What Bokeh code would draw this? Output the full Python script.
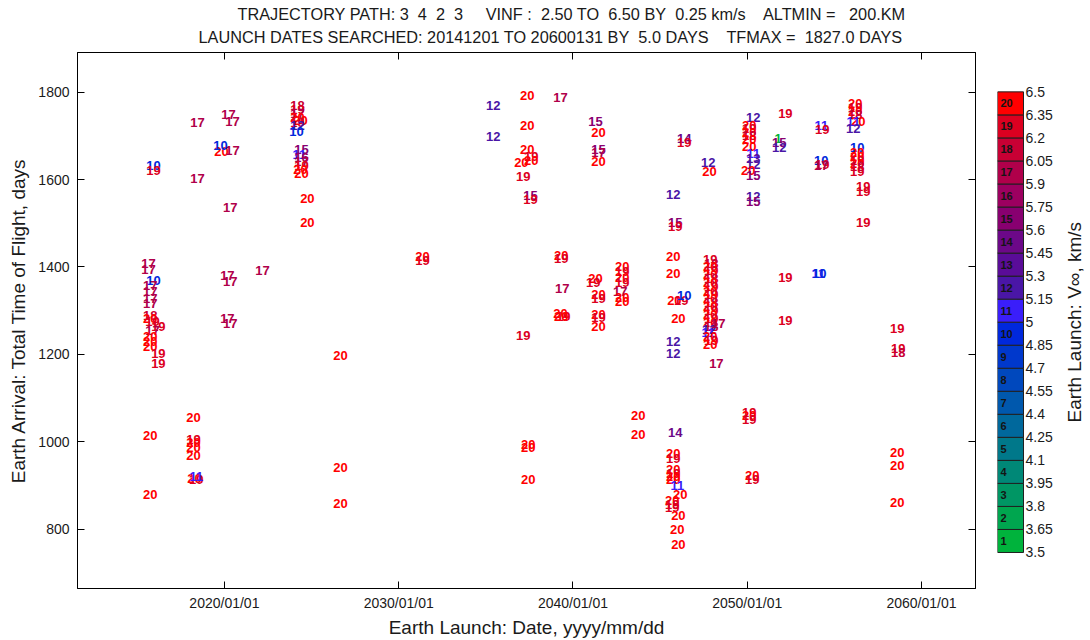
import numpy as np
from bokeh.plotting import figure
from bokeh.models import Range1d, FixedTicker, LinearAxis, Title, ColumnDataSource
from bokeh.layouts import row
from bokeh.embed import file_html
from bokeh.resources import INLINE
from bokeh.core.properties import value

# ---------------- data ----------------
launch_year = [
    # 2015-2016
    2015.93, 2015.93, 2015.64, 2015.64, 2015.93, 2015.75, 2015.75, 2015.75, 2015.75, 2015.75, 2015.75,
    2015.87, 2016.21, 2015.87, 2015.75, 2015.75, 2015.75, 2016.21, 2016.21, 2015.75, 2015.75,
    # 2018
    2018.45, 2018.45, 2018.22, 2018.22, 2018.22, 2018.22, 2018.22, 2018.28, 2018.39, 2018.39,
    # 2020-2022
    2020.23, 2020.46, 2019.83, 2020.46, 2019.77, 2020.34, 2020.17, 2020.34, 2020.17, 2020.34, 2022.18,
    # 2024
    2024.19, 2024.19, 2024.19, 2024.19, 2024.36, 2024.19, 2024.19, 2024.13, 2024.42, 2024.30, 2024.42,
    2024.42, 2024.42, 2024.36, 2024.42, 2024.76, 2024.76,
    # 2026-2031
    2026.66, 2026.66, 2026.66, 2031.36, 2031.36,
    # 2035-2039
    2035.43, 2035.43, 2037.38, 2039.28, 2037.38, 2037.38, 2037.61, 2037.61, 2037.04, 2037.15, 2037.56,
    2037.56, 2037.15, 2037.44, 2037.44, 2037.44, 2039.33, 2039.33, 2039.39, 2039.28, 2039.45, 2039.33,
    # 2041-2043
    2041.29, 2041.46, 2041.46, 2041.46, 2041.46, 2041.29, 2041.17, 2041.46, 2041.46, 2041.46, 2041.46,
    2041.46, 2042.83, 2042.83, 2042.83, 2042.83, 2042.72, 2042.83, 2042.83, 2043.75, 2043.75,
    # 2045-2046
    2046.39, 2046.39, 2045.76, 2045.87, 2045.87, 2045.76, 2045.76, 2045.82, 2046.22, 2046.39, 2046.05,
    2045.76, 2045.76, 2045.87, 2045.76, 2045.76, 2045.76, 2045.76, 2045.76, 2045.76, 2045.99, 2046.16,
    2045.70, 2045.70, 2045.70, 2046.05, 2045.99, 2046.05,
    # 2047-2048
    2047.77, 2047.83, 2047.88, 2047.94, 2047.88, 2047.94, 2047.88, 2047.94, 2047.88, 2047.94, 2047.88,
    2047.94, 2047.88, 2047.94, 2047.88, 2047.94, 2047.88, 2047.94, 2047.88, 2047.94, 2047.82, 2047.77,
    2047.88, 2047.94, 2047.88, 2048.34, 2048.23,
    # 2050
    2050.35, 2050.12, 2050.12, 2050.12, 2050.12, 2050.12, 2050.12, 2050.35, 2050.35, 2050.35, 2050.06,
    2050.35, 2050.35, 2050.35, 2050.12, 2050.12, 2050.12, 2050.29, 2050.29,
    # 2052-2054
    2052.19, 2051.78, 2051.84, 2051.84, 2052.19, 2052.19, 2054.25, 2054.31, 2054.25, 2054.31, 2054.25,
    2054.08, 2054.14,
    # 2056-2059
    2056.20, 2056.20, 2056.20, 2056.20, 2056.37, 2056.09, 2056.09, 2056.32, 2056.32, 2056.32, 2056.32,
    2056.32, 2056.32, 2056.32, 2056.66, 2056.66, 2056.66, 2058.61, 2058.67, 2058.67, 2058.61, 2058.61,
    2058.61,
]

tof_days = [
    1632, 1620, 1407, 1395, 1368, 1357, 1345, 1327, 1316, 1289, 1282,
    1275, 1264, 1255, 1241, 1230, 1218, 1202, 1180, 1014, 880,
    1730, 1602, 1055, 1005, 998, 986, 968, 916, 914, 920,
    1748, 1732, 1664, 1666, 1677, 1536, 1380, 1366, 1282, 1270, 1391,
    1770, 1761, 1752, 1743, 1736, 1730, 1723, 1711, 1668, 1657, 1650,
    1641, 1632, 1623, 1614, 1557, 1502,
    1198, 941, 859, 1423, 1414,
    1770, 1698, 1793, 1789, 1725, 1668, 1652, 1643, 1639, 1607, 1564,
    1555, 1243, 993, 986, 914, 1427, 1420, 1350, 1293, 1286, 1286,
    1732, 1707, 1668, 1661, 1641, 1373, 1364, 1336, 1327, 1291, 1284,
    1264, 1400, 1389, 1375, 1364, 1345, 1330, 1320, 1061, 1016,
    1693, 1684, 1566, 1502, 1493, 1425, 1384, 1323, 1323, 1334, 1282,
    1230, 1202, 1020, 973, 961, 936, 927, 920, 914, 900, 880,
    866, 857, 850, 832, 800, 764,
    1639, 1618, 1418, 1409, 1400, 1391, 1382, 1373, 1364, 1355, 1345,
    1336, 1327, 1318, 1309, 1300, 1291, 1282, 1273, 1264, 1257, 1250,
    1241, 1232, 1223, 1270, 1180,
    1743, 1725, 1716, 1709, 1700, 1691, 1675, 1659, 1648, 1634, 1620,
    1609, 1561, 1550, 1068, 1059, 1052, 923, 914,
    1752, 1695, 1684, 1673, 1377, 1277, 1723, 1714, 1643, 1634, 1632,
    1386, 1384,
    1775, 1766, 1757, 1748, 1734, 1732, 1716, 1673, 1661, 1652, 1643,
    1636, 1630, 1618, 1584, 1573, 1502, 1259, 1214, 1205, 975, 945,
    861,
]

vinf_bin = [
    10, 19, 17, 17, 10, 17, 17, 17, 17, 18, 20,
    19, 19, 17, 20, 20, 20, 19, 19, 20, 20,
    17, 17, 20, 19, 20, 20, 20, 20, 19, 11,
    17, 17, 20, 17, 10, 17, 17, 17, 17, 17, 17,
    18, 19, 17, 20, 20, 19, 12, 10, 15, 11, 16,
    17, 19, 20, 20, 20, 20,
    20, 20, 20, 20, 19,
    12, 12, 20, 17, 20, 20, 19, 20, 20, 19, 15,
    19, 19, 20, 20, 20, 20, 19, 17, 20, 19, 20,
    15, 20, 15, 17, 20, 20, 19, 20, 19, 20, 19,
    20, 20, 19, 20, 19, 17, 20, 20, 20, 20,
    14, 19, 12, 15, 19, 20, 20, 20, 19, 10, 20,
    12, 12, 14, 20, 19, 20, 19, 20, 20, 11, 20,
    20, 19, 19, 20, 20, 20,
    12, 20, 19, 18, 20, 19, 20, 18, 20, 19, 20,
    19, 20, 18, 20, 19, 20, 19, 20, 18, 12, 11,
    20, 19, 20, 17, 17,
    12, 20, 19, 20, 18, 20, 20, 11, 13, 12, 20,
    15, 12, 15, 19, 20, 19, 20, 19,
    19, 1, 15, 12, 19, 19, 11, 19, 10, 19, 17,
    11, 10,
    20, 19, 20, 18, 20, 11, 12, 10, 20, 20, 19,
    20, 18, 19, 19, 19, 19, 19, 19, 18, 20, 20,
    20,
]

bin_colors = [
    "#00b33c", "#00a64f", "#009664", "#008877", "#00788a", "#00689c", "#0058ad", "#0048bd",
    "#0038cc", "#0028dc", "#3a1efa", "#4a16a6", "#5a0c98", "#6c0888", "#880070", "#9c0060",
    "#b0004a", "#c80034", "#dc0020", "#ff0000",
]

x_tick_years = [2020, 2030, 2040, 2050, 2060]
x_tick_labels = ["2020/01/01", "2030/01/01", "2040/01/01", "2050/01/01", "2060/01/01"]
y_ticks = [800, 1000, 1200, 1400, 1600, 1800]

vinf_edges = [3.5, 3.65, 3.8, 3.95, 4.1, 4.25, 4.4, 4.55, 4.7, 4.85, 5.0,
              5.15, 5.3, 5.45, 5.6, 5.75, 5.9, 6.05, 6.2, 6.35, 6.5]
vinf_edge_labels = ["3.5", "3.65", "3.8", "3.95", "4.1", "4.25", "4.4", "4.55", "4.7", "4.85", "5",
                    "5.15", "5.3", "5.45", "5.6", "5.75", "5.9", "6.05", "6.2", "6.35", "6.5"]
bin_numbers = [str(i) for i in range(1, 21)]

title_line1 = ("TRAJECTORY PATH: 3\u00a0 4\u00a0 2\u00a0 3\u00a0\u00a0\u00a0\u00a0 VINF :\u00a0 2.50 TO\u00a0 6.50 BY"
               "\u00a0 0.25 km/s\u00a0\u00a0\u00a0 ALTMIN =\u00a0\u00a0 200.KM")
title_line2 = "LAUNCH DATES SEARCHED: 20141201 TO 20600131 BY\u00a0 5.0 DAYS\u00a0\u00a0\u00a0 TFMAX =\u00a0 1827.0 DAYS"

assert len(launch_year) == len(tof_days) == len(vinf_bin)

FONT = "Liberation Sans"

# ---------------- main plot ----------------
src = ColumnDataSource(dict(
    x=launch_year, y=tof_days,
    label=[str(b) for b in vinf_bin],
    color=[bin_colors[b - 1] for b in vinf_bin],
))

p = figure(width=997, height=640, x_range=Range1d(2011.57, 2063.1), y_range=Range1d(664, 1891),
           output_backend="svg", toolbar_location=None, title=None,
           min_border_left=77, min_border_right=22, min_border_top=52, min_border_bottom=48)
p.xgrid.visible = False
p.ygrid.visible = False
p.outline_line_color = "black"
p.outline_line_alpha = 1.0
p.outline_line_width = 1
p.background_fill_color = "white"
p.border_fill_color = "white"

def style_axis(ax, labels=True):
    ax.axis_line_color = "black"
    ax.major_tick_line_color = "black"
    ax.major_tick_in = 7
    ax.major_tick_out = 0
    ax.minor_tick_line_color = None
    ax.major_label_text_font = FONT
    ax.major_label_text_font_size = "14px" if labels else "1px"
    ax.major_label_text_color = "#1a1a1a" if labels else None
    ax.axis_label_text_font = FONT
    ax.axis_label_text_font_size = "19px"
    ax.axis_label_text_font_style = "normal"
    ax.axis_label_text_color = "#1a1a1a"

xax = p.xaxis[0]
xax.ticker = FixedTicker(ticks=x_tick_years)
xax.major_label_overrides = {t: lab for t, lab in zip(x_tick_years, x_tick_labels)}
xax.axis_label = "Earth Launch: Date, yyyy/mm/dd"
style_axis(xax)
xax.major_label_standoff = 6
xax.axis_label_standoff = 3

yax = p.yaxis[0]
yax.ticker = FixedTicker(ticks=y_ticks)
yax.axis_label = "Earth Arrival: Total Time of Flight, days"
style_axis(yax)
yax.major_label_standoff = 8
yax.axis_label_standoff = 6

top_ax = LinearAxis(ticker=FixedTicker(ticks=x_tick_years), major_label_standoff=0)
style_axis(top_ax, labels=False)
p.add_layout(top_ax, "above")
right_ax = LinearAxis(ticker=FixedTicker(ticks=y_ticks), major_label_standoff=0)
style_axis(right_ax, labels=False)
p.add_layout(right_ax, "right")

p.add_layout(Title(text=title_line2, align="left", offset=121, standoff=14,
                   text_font=FONT, text_font_size="16.3px", text_font_style="normal",
                   text_color="#1a1a1a"), "above")
p.add_layout(Title(text=title_line1, align="left", offset=160, standoff=-8,
                   text_font=FONT, text_font_size="16.3px", text_font_style="normal",
                   text_color="#1a1a1a"), "above")

p.text(x="x", y="y", text="label", text_color="color", source=src,
       text_font=value(FONT), text_font_style="bold", text_font_size="13px",
       text_align="center", text_baseline="middle")

# ---------------- colour bar ----------------
cb_top_px, cb_bot_px, cb_h = 47.0, 597.0, 640.0
span = vinf_edges[-1] - vinf_edges[0]
scale = span / (cb_bot_px - cb_top_px)
cb_hi = vinf_edges[-1] + cb_top_px * scale
cb_lo = vinf_edges[-1] - (cb_h - cb_top_px) * scale

cb = figure(width=93, height=640, x_range=Range1d(0, 93), y_range=Range1d(cb_lo, cb_hi),
            output_backend="svg", toolbar_location=None, title=None,
            x_axis_type=None, y_axis_type=None, min_border=0,
            outline_line_color=None)
cb.xgrid.visible = False
cb.ygrid.visible = False

cb.quad(left=0, right=26, bottom=vinf_edges[:-1], top=vinf_edges[1:],
        fill_color=bin_colors, line_color="#202020", line_width=1)
centers = [(a + b) / 2 for a, b in zip(vinf_edges[:-1], vinf_edges[1:])]
cb.text(x=[3] * 20, y=centers, text=bin_numbers, text_color="#141414",
        text_font=value(FONT), text_font_style="bold", text_font_size="11px",
        text_align="left", text_baseline="middle")
cb.text(x=[28] * len(vinf_edges), y=vinf_edges, text=vinf_edge_labels, text_color="#1a1a1a",
        text_font=value(FONT), text_font_size="14px",
        text_align="left", text_baseline="middle")
cb.text(x=[77], y=[(vinf_edges[0] + vinf_edges[-1]) / 2], text=["Earth Launch: V\u221e, km/s"],
        angle=np.pi / 2, text_color="#1a1a1a", text_font=value(FONT), text_font_size="19px",
        text_align="center", text_baseline="middle")

layout = row(p, cb)
open("out.html", "w").write(file_html(layout, INLINE))
